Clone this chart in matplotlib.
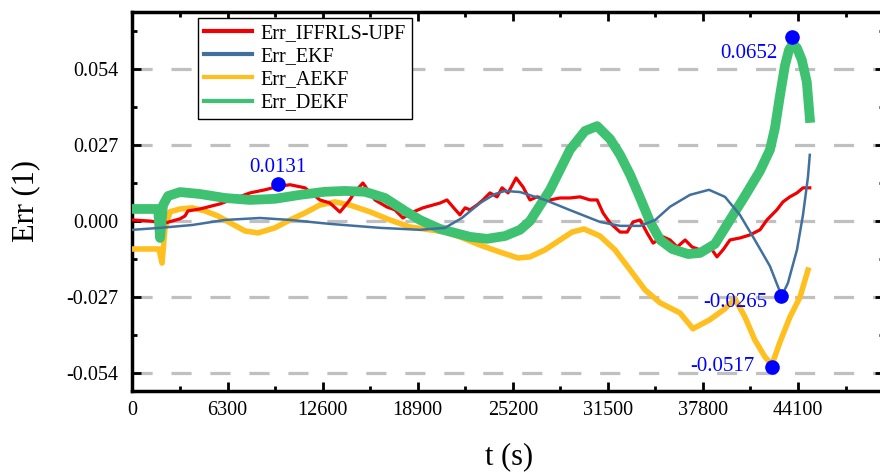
import matplotlib
matplotlib.use("Agg")
import matplotlib.pyplot as plt
from matplotlib.ticker import MultipleLocator, FormatStrFormatter

plt.rcParams['font.family'] = ['Liberation Serif', 'DejaVu Serif']
plt.rcParams['axes.unicode_minus'] = False

# time axis (s) and error values
t_red = [0, 1160, 2160, 3150, 3480, 3680, 4480, 5800, 7790, 8780, 9580, 10440, 11430,
         12420, 13090, 13750, 14400, 14740, 15270, 16070, 16860, 17390, 17920, 18580,
         19250, 19910, 20380, 20840, 21240, 21700, 22040, 22370, 22830, 23230, 23690,
         24160, 24490, 24890, 25420, 25880, 26340, 26810, 27670, 28330, 28990, 29660,
         30320, 30790, 31180, 31650, 32310, 32780, 33170, 33640, 34100, 34500, 35160,
         35620, 36090, 36620, 37080, 37610, 38270, 38730, 39130, 39590, 40250, 40920,
         41580, 42040, 42700, 43100, 43560, 44030, 44430, 44880]
err_iffrls = [0.0004, 0.0000, -0.0007, 0.0008, 0.0018, 0.0036, 0.0043, 0.0061, 0.0100,
              0.0111, 0.0122, 0.0129, 0.0118, 0.0075, 0.0064, 0.0032, 0.0075, 0.0104,
              0.0135, 0.0075, 0.0050, 0.0040, 0.0011, 0.0032, 0.0047, 0.0057, 0.0064,
              0.0075, 0.0050, 0.0022, 0.0047, 0.0040, 0.0057, 0.0075, 0.0100, 0.0086,
              0.0118, 0.0100, 0.0153, 0.0121, 0.0075, 0.0086, 0.0075, 0.0082, 0.0082,
              0.0086, 0.0075, 0.0075, 0.0029, -0.0007, -0.0039, -0.0039, -0.0003, 0.0004,
              -0.0042, -0.0078, -0.0056, -0.0067, -0.0092, -0.0067, -0.0092, -0.0102,
              -0.0092, -0.0127, -0.0102, -0.0067, -0.0060, -0.0049, -0.0031, 0.0004,
              0.0040, 0.0068, 0.0086, 0.0100, 0.0118, 0.0118]

t_blue = [0, 1830, 3950, 6130, 8450, 10440, 13090, 16400, 19050, 20710, 21830, 23030,
          24020, 24680, 25680, 27340, 28990, 30980, 32310, 33640, 34640, 35620, 36940,
          38200, 39260, 40250, 41240, 42240, 42780, 43030, 43430, 44030, 44430, 44760,
          44880]
err_ekf = [-0.0031, -0.0024, -0.0014, 0.0004, 0.0011, 0.0004, -0.0010, -0.0024, -0.0031,
           -0.0024, 0.0011, 0.0064, 0.0096, 0.0107, 0.0103, 0.0075, 0.0039, -0.0003,
           -0.0017, -0.0017, 0.0004, 0.0051, 0.0093, 0.0111, 0.0086, 0.0022, -0.0067,
           -0.0160, -0.0234, -0.0265, -0.0220, -0.0102, 0.0022, 0.0157, 0.0235]

t_yel = [0, 1760, 1960, 2160, 2490, 3150, 3950, 4810, 5670, 6600, 7460, 8320, 9440,
         10440, 11430, 12420, 13420, 14400, 15730, 17060, 18390, 19710, 20710, 21700,
         23030, 24350, 25550, 26340, 27340, 28330, 29130, 29920, 30980, 31970, 32970,
         33960, 34960, 36280, 37140, 38260, 39260, 39920, 40580, 41240, 41910, 42370,
         42900, 43560, 44230, 44760]
err_aekf = [-0.0099, -0.0099, -0.0149, -0.0024, 0.0033, 0.0043, 0.0047, 0.0036, 0.0018,
            -0.0010, -0.0035, -0.0042, -0.0024, 0.0004, 0.0029, 0.0057, 0.0068, 0.0057,
            0.0033, 0.0004, -0.0021, -0.0031, -0.0039, -0.0056, -0.0085, -0.0110,
            -0.0131, -0.0127, -0.0102, -0.0067, -0.0039, -0.0028, -0.0053, -0.0102,
            -0.0173, -0.0244, -0.0290, -0.0326, -0.0382, -0.0350, -0.0311, -0.0276,
            -0.0340, -0.0422, -0.0482, -0.0510, -0.0430, -0.0341, -0.0270, -0.0174]

t_grn = [0, 1700, 1830, 2030, 2360, 3150, 4480, 6130, 7790, 9440, 11100, 12750, 14080,
         15410, 16730, 18060, 19050, 20380, 22370, 23490, 24680, 25680, 26340, 27670,
         28990, 29990, 30790, 31650, 32310, 32980, 33640, 34300, 34970, 35760, 36820,
         37610, 38600, 39590, 40580, 41580, 42240, 42570, 42900, 43230, 43500, 43760,
         44030, 44350, 44680, 44880]
err_dekf = [0.0043, 0.0043, -0.0060, 0.0057, 0.0089, 0.0103, 0.0096, 0.0082, 0.0075,
            0.0079, 0.0093, 0.0104, 0.0107, 0.0104, 0.0082, 0.0036, 0.0004, -0.0028,
            -0.0056, -0.0063, -0.0053, -0.0031, 0.0000, 0.0111, 0.0253, 0.0320, 0.0337,
            0.0291, 0.0235, 0.0164, 0.0082, -0.0003, -0.0067, -0.0099, -0.0117, -0.0113,
            -0.0081, 0.0004, 0.0089, 0.0178, 0.0253, 0.0330, 0.0444, 0.0551, 0.0607,
            0.0630, 0.0614, 0.0572, 0.0494, 0.0366]

# marked extreme values
ann_t = [9650, 43700, 42960, 42370]
ann_v = [0.0131, 0.0652, -0.0265, -0.0517]
ann_txt = ['0.0131', '0.0652', '-0.0265', '-0.0517']

fig = plt.figure(figsize=(8.8, 4.72), dpi=100)
ax = fig.add_axes([0.1505, 0.1716, 0.8541, 0.8030])

ax.plot(t_yel, err_aekf, color='#ffbf1f', lw=4.0, label='Err_AEKF', zorder=3)
ax.plot(t_red, err_iffrls, color='#f00000', lw=2.3, label='Err_IFFRLS-UPF', zorder=4)
ax.plot(t_grn, err_dekf, color='#3ec170', lw=7, label='Err_DEKF', zorder=5)
ax.plot(t_blue, err_ekf, color='#41709f', lw=1.8, label='Err_EKF', zorder=6)

ax.plot(ann_t, ann_v, 'o', color='#0000ff', ms=9.5, zorder=8)
offs = [(0, 17, 'center'), (-14, -16, 'right'), (-13, -7, 'right'), (-17, 0, 'right')]
for tx, vy, s, (dx, dy, ha) in zip(ann_t, ann_v, ann_txt, offs):
    ax.annotate(s, (tx, vy), xytext=(dx, dy), textcoords='offset pixels',
                ha=ha, va='center', color='#0000ff', fontsize=15, zorder=9)

ax.set_xlim(0, 49800)
ax.set_ylim(-0.0603, 0.0742)
ax.xaxis.set_major_locator(MultipleLocator(6300))
ax.xaxis.set_minor_locator(MultipleLocator(3150))
ax.yaxis.set_major_locator(MultipleLocator(0.027))
ax.yaxis.set_minor_locator(MultipleLocator(0.0135))
ax.yaxis.set_major_formatter(FormatStrFormatter('%.3f'))

ax.yaxis.grid(True, color='#c0c0c0', lw=2.3, linestyle=(0, (6.3, 5.9)))
ax.set_axisbelow(True)

for sp in ax.spines.values():
    sp.set_linewidth(2.5)
ax.tick_params(which='both', direction='in', top=True, right=True, width=2)
ax.tick_params(which='major', length=6.7, labelsize=14.5)
ax.tick_params(axis='y', which='major', pad=10)
ax.tick_params(axis='x', which='major', pad=7.5)
ax.tick_params(which='minor', length=3.8)

ax.set_xlabel('t (s)', fontsize=22)
ax.set_ylabel('Err (1)', fontsize=22)
ax.xaxis.set_label_coords(0.501, -0.1346)
ax.yaxis.set_label_coords(-0.123, 0.5)

h, l = ax.get_legend_handles_labels()
order = [1, 3, 0, 2]
leg = ax.legend([h[i] for i in order], [l[i] for i in order], loc='upper left',
                bbox_to_anchor=(0.0873, 0.984), borderaxespad=0, fontsize=14.5,
                frameon=True, fancybox=False, edgecolor='black', framealpha=1,
                handlelength=2.4, handletextpad=0.4, labelspacing=0.2,
                borderpad=0.3)
leg.get_frame().set_linewidth(1.0)
for ln in leg.get_lines():
    ln.set_linewidth(3)

fig.savefig('out.png', dpi=100)
